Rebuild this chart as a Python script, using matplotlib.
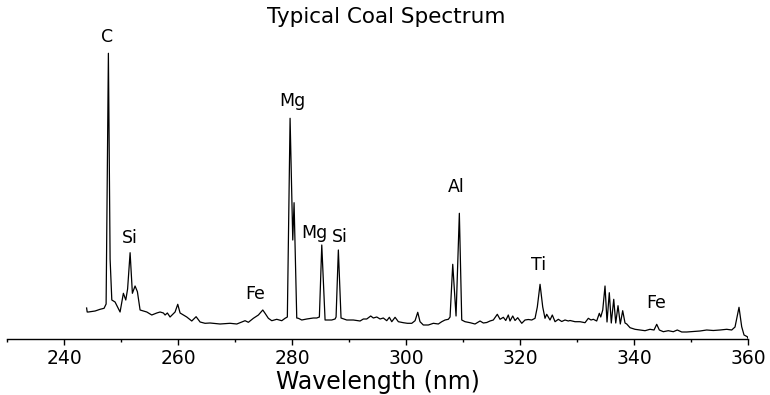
import matplotlib.pyplot as plt
from matplotlib.ticker import MultipleLocator

# Spectrum (wavelength in nm, intensity in a.u.)
wavelength = [243.90, 244.00, 244.21, 245.39, 246.26, 246.96, 247.32, 247.72, 248.02, 248.32,
              248.89, 249.77, 250.35, 250.77, 251.09, 251.53, 251.93, 252.40, 252.81, 253.28,
              254.46, 255.33, 256.21, 256.79, 257.37, 257.67, 258.07, 258.54, 259.42, 259.89,
              260.30, 260.88, 261.47, 262.35, 263.11, 263.81, 264.68, 265.56, 267.31, 269.07,
              270.25, 271.70, 272.28, 273.16, 274.04, 274.81, 275.21, 275.79, 276.39, 277.26,
              278.14, 278.72, 279.12, 279.60, 280.07, 280.30, 280.77, 281.05, 281.65, 282.53,
              283.68, 284.28, 284.74, 285.16, 285.74, 286.91, 287.49, 287.67, 288.07, 288.54,
              289.54, 290.70, 291.88, 292.46, 293.05, 293.75, 294.21, 294.81, 295.39, 295.96,
              296.56, 297.02, 297.44, 298.02, 298.60, 299.47, 300.18, 300.95, 301.53, 302.00,
              302.40, 302.98, 303.86, 304.74, 305.61, 306.21, 306.79, 307.37, 307.67, 308.14,
              308.72, 309.30, 309.72, 310.30, 311.18, 312.05, 312.93, 313.51, 314.11, 314.68,
              315.26, 315.96, 316.44, 317.02, 317.44, 317.89, 318.19, 318.67, 319.07, 319.54,
              320.25, 320.82, 321.40, 322.00, 322.58, 322.98, 323.46, 323.93, 324.33, 324.63,
              325.21, 325.61, 326.09, 326.67, 327.26, 327.84, 328.42, 328.72, 329.60, 330.47,
              331.35, 331.93, 332.40, 332.81, 333.40, 333.86, 334.11, 334.46, 334.86, 335.21,
              335.61, 335.96, 336.39, 336.74, 337.14, 337.54, 337.96, 338.37, 338.67, 339.25,
              340.12, 341.00, 341.88, 342.75, 343.46, 343.93, 344.39, 345.09, 345.96, 346.84,
              347.54, 348.32, 349.19, 350.35, 351.53, 352.70, 353.86, 355.04, 356.21, 357.09,
              357.67, 358.37, 358.84, 359.25, 359.82, 360.00]
intensity = [31.0, 27.0, 27.0, 28.0, 29.7, 30.7, 35.0, 285.7, 80.0, 39.0,
             37.0, 27.0, 45.7, 39.0, 50.0, 86.3, 45.7, 53.0, 47.3, 29.0,
             27.0, 24.0, 26.0, 27.0, 26.0, 24.0, 26.0, 22.0, 27.0, 34.7,
             26.0, 24.0, 22.0, 18.0, 22.3, 17.0, 15.7, 16.0, 15.0, 15.7,
             15.0, 18.3, 16.7, 20.7, 24.0, 29.0, 25.7, 20.7, 18.3, 19.7,
             18.3, 20.7, 22.0, 220.7, 99.0, 136.3, 21.0, 20.7, 19.0, 20.0,
             21.0, 21.0, 22.0, 94.0, 19.0, 19.0, 20.0, 22.0, 89.0, 21.0,
             19.0, 19.0, 18.0, 20.0, 20.0, 23.0, 21.0, 22.0, 20.0, 21.0,
             18.3, 21.7, 17.3, 21.7, 17.3, 16.3, 15.7, 15.7, 18.3, 26.7,
             17.3, 14.0, 14.0, 15.7, 15.0, 17.3, 19.0, 19.7, 22.0, 74.7,
             23.0, 125.7, 19.0, 17.3, 16.3, 15.0, 18.0, 16.0, 16.5, 18.0,
             19.0, 24.7, 19.7, 21.7, 18.5, 24.0, 18.0, 23.0, 18.5, 21.3,
             15.7, 19.0, 19.5, 19.0, 20.7, 32.0, 54.7, 32.0, 20.7, 24.7,
             19.0, 24.0, 17.3, 19.7, 17.5, 19.0, 18.0, 18.5, 17.3, 17.3,
             16.3, 20.7, 19.0, 19.7, 18.0, 25.7, 22.0, 29.0, 53.0, 17.0,
             46.3, 16.0, 39.7, 16.0, 33.3, 15.0, 28.3, 16.0, 15.0, 11.3,
             9.7, 9.0, 8.3, 9.7, 9.0, 14.7, 9.0, 7.3, 8.3, 7.3,
             9.0, 7.0, 7.0, 7.5, 8.0, 9.0, 8.5, 9.0, 9.7, 9.0,
             12.0, 31.7, 12.3, 4.0, 2.3, 0.0]

# Element labels
elements = ['C', 'Si', 'Mg', 'Fe', 'Mg', 'Si', 'Al', 'Ti', 'Fe']
label_x = [247.5, 251.4, 280.0, 273.4, 283.8, 288.4, 308.8, 323.2, 343.9]
label_y = [302, 101, 238, 45, 106, 102, 152, 74, 36]

fig = plt.figure(figsize=(7.7, 3.95), dpi=100)
ax = fig.add_axes([7.4 / 770, 56 / 395, 740.9 / 770, 299 / 395])

ax.plot(wavelength, intensity, color='black', linewidth=0.9)

for name, x, y in zip(elements, label_x, label_y):
    ax.text(x, y, name, ha='center', va='center', fontsize=12.5, clip_on=False)

ax.set_xlim(230, 360)
ax.set_ylim(0, 299)
ax.xaxis.set_major_locator(MultipleLocator(20))
ax.xaxis.set_minor_locator(MultipleLocator(10))
ax.tick_params(axis='x', which='major', length=4, width=1, labelsize=13.5, pad=3)
ax.tick_params(axis='x', which='minor', length=2.5, width=1)
ax.set_yticks([])
for side in ['left', 'right', 'top']:
    ax.spines[side].set_visible(False)
ax.spines['bottom'].set_linewidth(1)

ax.set_xlabel('Wavelength (nm)', fontsize=17, labelpad=2)
fig.text(386 / 770, 1 - 17 / 395, 'Typical Coal Spectrum', ha='center', va='center', fontsize=15.5)

fig.savefig('out.png', dpi=100)
